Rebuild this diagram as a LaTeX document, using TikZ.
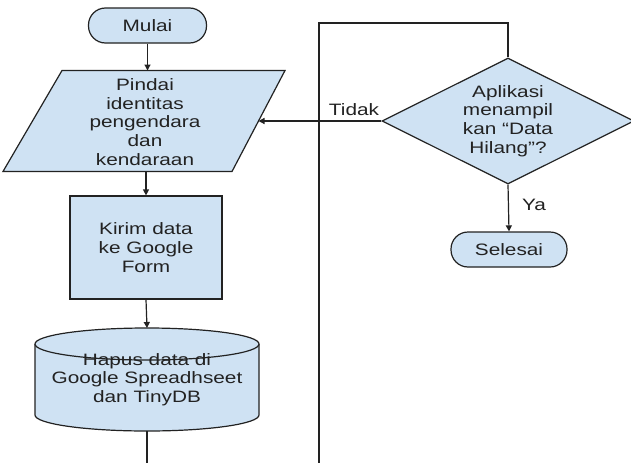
\documentclass[tikz,border=0pt]{standalone}
\usepackage{fontspec}
\setmainfont{Liberation Sans}[FakeStretch=1.26]
\usetikzlibrary{arrows.meta,shapes.geometric}
\definecolor{fillb}{HTML}{CFE2F3}
\definecolor{ink}{HTML}{222222}
\tikzset{
  txt/.style={text=ink, font=\fontsize{16.5}{18.7}\selectfont, align=center, inner sep=0pt},
  base/.style={txt, draw=ink, fill=fillb, line width=1.2pt},
  term/.style={base, rectangle, rounded corners=17pt, minimum width=118pt, minimum height=35pt},
  proc/.style={base, rectangle, minimum width=152pt, minimum height=103pt},
  dec/.style={base, diamond, aspect=2, minimum width=252pt, minimum height=126pt},
  conn/.style={draw=ink, line width=1.2pt},
  arr/.style={conn, -{Triangle[length=6pt,width=6pt]}},
  lbl/.style={txt}
}
\begin{document}
\begin{tikzpicture}[x=1pt,y=-1pt]
\useasboundingbox (0,0) rectangle (631,463);
\fill[white] (0,0) rectangle (631,463);
% left column
\node[term] (mulai) at (147.5,25.5) {Mulai};
% parallelogram (input/output)
\filldraw[conn, fill=fillb] (62,70.5) -- (285,70.5) -- (232,171.5) -- (3,171.5) -- cycle;
\node[txt] (scan) at (145,122) {Pindai\\identitas\\pengendara\\dan\\kendaraan};
\coordinate (scanN) at (147,70.5);
\coordinate (scanS) at (146,171.5);
\coordinate (scanE) at (258.5,121);
\node[proc] (kirim) at (146,247.5) {Kirim data\\ke Google\\Form};
% cylinder
\fill[fillb] (35,344) -- (35,415) .. controls (35,423.8) and (85.1,431) .. (147,431)
  .. controls (208.9,431) and (259,423.8) .. (259,415) -- (259,344) -- cycle;
\draw[conn] (35,344) -- (35,415) .. controls (35,423.8) and (85.1,431) .. (147,431)
  .. controls (208.9,431) and (259,423.8) .. (259,415) -- (259,344);
\draw[conn, fill=fillb] (147,344) ellipse [x radius=112, y radius=16];
\node[txt] (db) at (147,379.5) {Hapus data di\\Google Spreadhseet\\dan TinyDB};
\coordinate (dbtop) at (147,328);
\coordinate (dbbot) at (147,431);
\coordinate (dbend) at (147,463);
% right column
\node[dec] (dec) at (508,121) {Aplikasi\\menampil\\kan “Data\\Hilang”?};
\node[term, minimum width=116pt] (selesai) at (509,249.5) {Selesai};
\coordinate (looptl) at (319,23);
\coordinate (loopbl) at (319,463);
% connectors
\draw[arr] (mulai.south) -- (mulai.south |- scanN);
\draw[arr] (kirim.north |- scanS) -- (kirim.north);
\draw[arr] (kirim.south) -- (dbtop);
\draw[conn] (dbbot) -- (dbend);
\draw[conn] (dec.north) |- (looptl) -- (loopbl);
\draw[arr] (dec.west) -- (scanE);
\draw[arr] (dec.south) -- (selesai.north);
\node[lbl] (tidak) at (354,110) {Tidak};
\node[lbl] (ya) at (534,205) {Ya};
\end{tikzpicture}
\end{document}
